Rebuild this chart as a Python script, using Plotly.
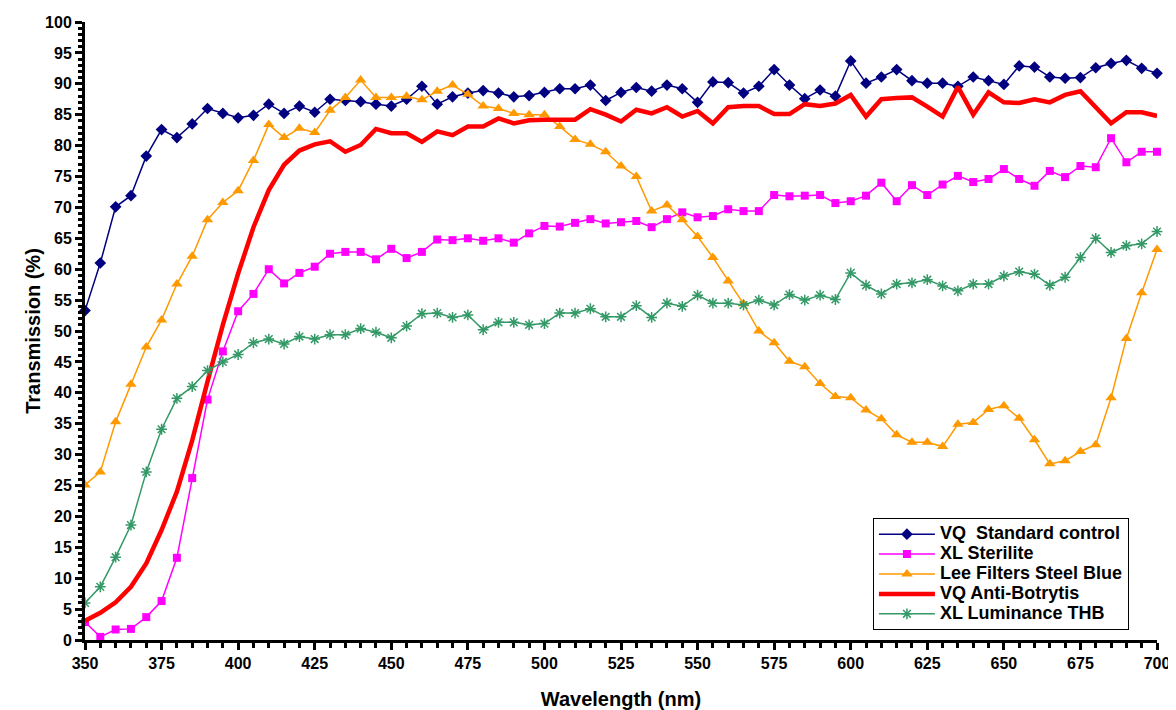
import plotly.graph_objects as go

wavelength = list(range(350, 701, 5))

vq_standard = [53.3, 61.0, 70.1, 71.9, 78.3, 82.6, 81.3, 83.5, 86.0, 85.2, 84.5, 84.9, 86.7, 85.2, 86.4,
               85.4, 87.5, 87.3, 87.1, 86.7, 86.4, 87.5, 89.6, 86.7, 87.9, 88.5, 88.9, 88.5, 87.9, 88.1,
               88.6, 89.2, 89.2, 89.8, 87.3, 88.6, 89.4, 88.8, 89.8, 89.2, 87.0, 90.3, 90.2, 88.5, 89.6,
               92.3, 89.8, 87.6, 89.0, 88.0, 93.7, 90.1, 91.1, 92.3, 90.5, 90.1, 90.1, 89.6, 91.1, 90.5,
               89.9, 92.9, 92.7, 91.1, 90.9, 91.0, 92.6, 93.3, 93.8, 92.5, 91.7]

xl_sterilite = [2.9, 0.5, 1.7, 1.8, 3.7, 6.3, 13.3, 26.2, 38.9, 46.7, 53.2, 56.0, 60.0, 57.7, 59.4,
                60.4, 62.5, 62.8, 62.8, 61.6, 63.3, 61.8, 62.8, 64.8, 64.7, 65.0, 64.6, 65.0, 64.3, 65.8,
                67.0, 66.9, 67.5, 68.1, 67.4, 67.6, 67.8, 66.8, 68.1, 69.2, 68.4, 68.6, 69.7, 69.4, 69.4,
                72.0, 71.8, 71.9, 72.0, 70.7, 71.0, 71.9, 74.0, 71.0, 73.6, 72.0, 73.7, 75.1, 74.1, 74.6,
                76.2, 74.6, 73.5, 75.9, 74.9, 76.7, 76.5, 81.2, 77.3, 79.0, 79.0]

lee_steel_blue = [25.1, 27.2, 35.3, 41.4, 47.4, 51.8, 57.6, 62.1, 68.0, 70.8, 72.7, 77.6, 83.4, 81.3, 82.8,
                  82.1, 85.7, 87.8, 90.6, 87.8, 87.8, 88.0, 87.4, 88.8, 89.8, 88.3, 86.4, 86.0, 85.2, 85.0,
                  85.0, 83.1, 81.0, 80.2, 79.0, 76.7, 75.0, 69.4, 70.4, 68.0, 65.3, 61.9, 58.1, 54.4, 50.0,
                  48.1, 45.1, 44.2, 41.5, 39.4, 39.2, 37.2, 35.8, 33.2, 32.0, 32.0, 31.3, 34.9, 35.2, 37.3,
                  37.9, 35.9, 32.4, 28.5, 29.0, 30.5, 31.6, 39.2, 48.8, 56.2, 63.2]

vq_anti_botrytis = [3.1, 4.4, 6.1, 8.6, 12.4, 17.8, 24.0, 32.3, 41.8, 51.0, 59.3, 66.8, 72.8, 76.9, 79.2,
                    80.2, 80.7, 79.0, 80.1, 82.7, 82.0, 82.0, 80.6, 82.3, 81.7, 83.1, 83.1, 84.4, 83.6, 84.1,
                    84.2, 84.2, 84.2, 85.9, 85.0, 83.9, 85.8, 85.2, 86.2, 84.7, 85.6, 83.6, 86.2, 86.4, 86.4,
                    85.1, 85.1, 86.7, 86.4, 86.8, 88.2, 84.7, 87.5, 87.7, 87.8, 86.3, 84.7, 89.5, 85.0, 88.6,
                    87.0, 86.9, 87.5, 87.0, 88.2, 88.8, 86.3, 83.6, 85.4, 85.4, 84.8]

xl_luminance = [6.0, 8.6, 13.4, 18.6, 27.2, 34.1, 39.1, 41.0, 43.6, 45.0, 46.2, 48.1, 48.7, 47.9, 49.1,
                48.7, 49.4, 49.4, 50.4, 49.8, 48.9, 50.8, 52.8, 52.9, 52.2, 52.6, 50.2, 51.4, 51.4, 51.0,
                51.2, 52.9, 52.9, 53.6, 52.3, 52.3, 54.1, 52.2, 54.5, 54.0, 55.8, 54.5, 54.5, 54.2, 55.0,
                54.2, 55.9, 55.0, 55.8, 55.1, 59.4, 57.4, 56.0, 57.6, 57.8, 58.3, 57.3, 56.5, 57.6, 57.6,
                58.9, 59.6, 59.2, 57.4, 58.7, 61.9, 65.0, 62.7, 63.8, 64.1, 66.1]

series_names = ["VQ\u00a0 Standard control", "XL Sterilite", "Lee Filters Steel Blue",
                "VQ Anti-Botrytis", "XL Luminance THB"]

x_tick_labels = [str(v) for v in range(350, 701, 25)]
y_tick_labels = [str(v) for v in range(0, 101, 5)]

FONT = "Liberation Sans, Arial, sans-serif"


def legend_label(name):
    return '<span style="font-size:18px">' + name + '</span>'


fig = go.Figure()
fig.add_trace(go.Scatter(x=wavelength, y=vq_standard, name=legend_label(series_names[0]), mode="lines+markers",
                         line=dict(color="#000080", width=1.5),
                         marker=dict(symbol="diamond", size=9, color="#000080"), cliponaxis=False))
fig.add_trace(go.Scatter(x=wavelength, y=xl_sterilite, name=legend_label(series_names[1]), mode="lines+markers",
                         line=dict(color="#FF00FF", width=1.5),
                         marker=dict(symbol="square", size=8, color="#FF00FF"), cliponaxis=False))
fig.add_trace(go.Scatter(x=wavelength, y=lee_steel_blue, name=legend_label(series_names[2]), mode="lines+markers",
                         line=dict(color="#FF9900", width=1.5),
                         marker=dict(symbol="triangle-up", size=10, color="#FF9900"), cliponaxis=False))
fig.add_trace(go.Scatter(x=wavelength, y=vq_anti_botrytis, name=legend_label(series_names[3]), mode="lines",
                         line=dict(color="#FF0000", width=4.5), cliponaxis=False))
fig.add_trace(go.Scatter(x=wavelength, y=xl_luminance, name=legend_label(series_names[4]), mode="lines+markers",
                         line=dict(color="#339966", width=1.5),
                         marker=dict(symbol="asterisk-open", size=9, color="#339966",
                                     line=dict(color="#339966", width=1.5)), cliponaxis=False))

# the page body has an 8px margin, so the figure is sized to fit the window
fig.update_layout(
    width=1168, height=702,
    paper_bgcolor="white", plot_bgcolor="white",
    margin=dict(l=77, r=19, t=14, b=70),
    font=dict(family=FONT, color="black"),
    showlegend=True,
    legend=dict(x=0.735, y=0.197, xanchor="left", yanchor="top",
                bgcolor="white", bordercolor="black", borderwidth=1,
                font=dict(family=FONT, size=13, color="black", weight="bold"),
                tracegroupgap=0, itemwidth=56),
    xaxis=dict(range=[350, 700], tickmode="array", automargin=False,
               tickvals=list(range(350, 701, 25)), ticktext=x_tick_labels,
               ticks="outside", ticklen=7, tickwidth=3, tickcolor="black",
               minor=dict(dtick=5, tick0=350, ticks="outside", ticklen=5, tickwidth=3, tickcolor="black"),
               showline=True, linecolor="black", linewidth=3, showgrid=False, zeroline=False,
               tickfont=dict(family=FONT, size=16, color="black", weight="bold"),
               title=dict(text="Wavelength (nm)", standoff=21,
                          font=dict(family=FONT, size=20, color="black", weight="bold"))),
    yaxis=dict(range=[0, 100], tickmode="array", automargin=False,
               tickvals=list(range(0, 101, 5)), ticktext=y_tick_labels,
               ticks="outside", ticklen=7, tickwidth=3, tickcolor="black",
               minor=dict(dtick=1, tick0=0, ticks="outside", ticklen=4, tickwidth=3, tickcolor="black"),
               showline=True, linecolor="black", linewidth=3, showgrid=False, zeroline=False,
               tickfont=dict(family=FONT, size=16, color="black", weight="bold"),
               title=dict(text="Transmission (%)", standoff=0,
                          font=dict(family=FONT, size=20, color="black", weight="bold"))),
)

fig.write_html("out.html")
